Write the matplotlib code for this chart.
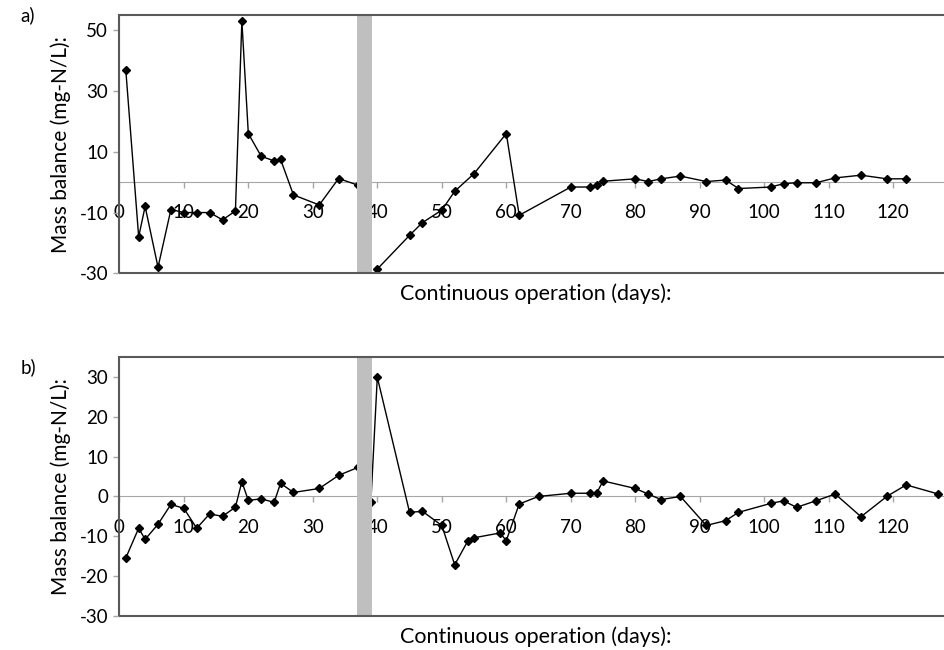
import matplotlib
matplotlib.use("Agg")
import matplotlib.pyplot as plt
import numpy as np
from matplotlib.patches import Rectangle

plt.rcParams['font.family'] = ['Lato', 'DejaVu Sans']
plt.rcParams['axes.unicode_minus'] = False

# panel a) -- gap between day 37 and 40 (NaN breaks the line)
days_a = [1, 3, 4, 6, 8, 10, 12, 14, 16, 18, 19, 20, 22, 24, 25, 27, 31, 34, 37,
          38,
          40, 45, 47, 50, 52, 55, 60, 62, 70, 73, 74, 75, 80, 82, 84, 87, 91, 94,
          96, 101, 103, 105, 108, 111, 115, 119, 122]
mb_a = [37, -18, -8, -28, -9, -10, -10, -10, -12.4, -9.5, 53, 16, 8.5, 7, 7.5, -4.2, -7.5, 1.2, -1,
        np.nan,
        -28.6, -17.5, -13.3, -9.2, -3, 2.8, 16, -10.9, -1.6, -1.6, -1.1, 0.3, 1.1, 0.2, 1.1, 2, 0.2, 0.7,
        -2.1, -1.6, -0.5, -0.2, -0.2, 1.4, 2.3, 1.1, 1.1]

# panel b)
days_b = [1, 3, 4, 6, 8, 10, 12, 14, 16, 18, 19, 20, 22, 24, 25, 27, 31, 34, 37,
          39, 40, 45, 47, 50, 52, 54, 55, 59, 60, 62, 65, 70, 73, 74, 75, 80, 82, 84,
          87, 91, 94, 96, 101, 103, 105, 108, 111, 115, 119, 122, 127]
mb_b = [-15.5, -8, -10.8, -7, -2, -3, -8, -4.4, -5, -2.7, 3.7, -1, -0.6, -1.5, 3.3, 1, 2, 5.3, 7.3,
        -1.5, 30, -4, -3.75, -7.3, -17.2, -11.3, -10.4, -9.2, -11.1, -1.9, 0, 0.8, 0.8, 0.8, 3.9, 2, 0.6, -0.8,
        0, -7.3, -6.1, -4, -1.75, -1.1, -2.75, -1.1, 0.6, -5.1, 0, 2.9, 0.6]

band = (36.9, 39.1)   # shaded interruption
x_ticks = [0, 10, 20, 30, 40, 50, 60, 70, 80, 90, 100, 110, 120]

FRAME = '#595959'
AXIS = '#a6a6a6'
FS = 13.5

fig = plt.figure(figsize=(9.44, 6.5), dpi=100)
ax_a = fig.add_axes([0.1264, 0.5795, 0.8882, 0.3974])
ax_b = fig.add_axes([0.1264, 0.0528, 0.8882, 0.3975])


def style_panel(ax, days, vals, ylim, yticks, tag, tag_y):
    ax.plot(days, vals, color='black', linewidth=1.0, marker='D', markersize=4.5,
            zorder=2)
    ax.axvspan(band[0], band[1], color='#bfbfbf', zorder=3, linewidth=0)
    ax.set_xlim(0, 130)
    ax.set_ylim(*ylim)
    ax.set_xticks(x_ticks)
    ax.set_yticks(yticks)

    for s in ['top', 'right']:
        ax.spines[s].set_visible(False)
    ax.spines['left'].set_color(AXIS)
    ax.spines['bottom'].set_position(('data', 0))
    ax.spines['bottom'].set_color(AXIS)
    ax.spines['bottom'].set_zorder(1)

    ax.tick_params(axis='x', direction='out', length=4, width=1, color=AXIS,
                   pad=12, labelsize=FS, labelcolor='black')
    ax.tick_params(axis='y', direction='out', length=4, width=1, color=AXIS,
                   pad=4, labelsize=FS, labelcolor='black')

    # dark frame of the plot area (top and bottom edges)
    ax.add_patch(Rectangle((0, 0), 1.2, 1, transform=ax.transAxes, fill=False,
                           edgecolor=FRAME, linewidth=1.5, clip_on=False, zorder=4))

    ax.set_ylabel('Mass balance (mg-N/L):', fontsize=FS + 1.5, labelpad=6)
    ax.set_xlabel('Continuous operation (days):', fontsize=15.5)
    ax.xaxis.set_label_coords(0.497, -0.04)
    ax.text(-0.118, tag_y, tag, transform=ax.transAxes, fontsize=FS,
            ha='left', va='center')


style_panel(ax_a, days_a, mb_a, (-30, 55), [-30, -10, 10, 30, 50], 'a)', 1.0)
style_panel(ax_b, days_b, mb_b, (-30, 35), [-30, -20, -10, 0, 10, 20, 30], 'b)', 0.96)

fig.savefig('out.png', dpi=100)
